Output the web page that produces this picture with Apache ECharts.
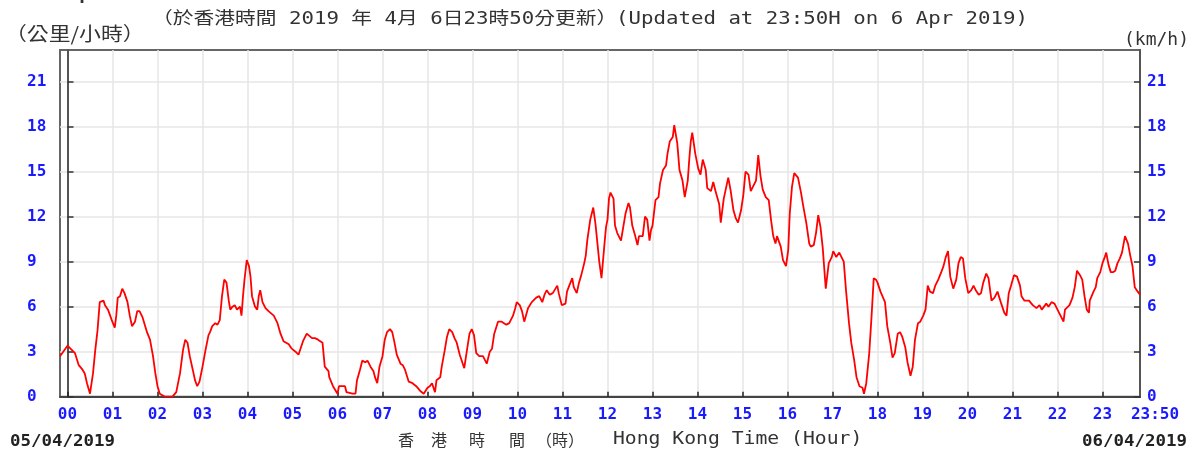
<!DOCTYPE html>
<html>
<head>
<meta charset="utf-8">
<script src="https://cdn.jsdelivr.net/npm/echarts@6/dist/echarts.min.js"></script>
<style>
  html, body { margin: 0; padding: 0; background: #ffffff; }
  #chart { width: 1191px; height: 450px; }
</style>
</head>
<body>
<div id="chart"></div>
<script>
// Minutes from 00:00 on 05/04/2019 (plot runs from 23:50 of the day before to 23:50)
const minutes = [
  -10, 0, 1, 10, 15, 20, 23, 26, 30, 32, 34, 37, 40, 43, 48, 50, 54, 59, 63, 65, 67, 70, 73, 76, 80, 83, 86, 90, 93, 96,
  100, 103, 106, 110, 114, 117, 120, 123, 130, 136, 140, 145, 150, 154, 157, 160, 163, 167, 170, 173, 176, 180, 184, 188, 190, 193, 197,
  200, 203, 206, 209, 212, 215, 217, 220, 223, 226, 230, 232, 234, 236, 239, 242, 244, 246, 250, 253, 255, 257, 260, 264, 268, 275,
  280, 284, 288, 290, 295, 299, 304, 308, 310, 314, 319, 320, 326, 330, 334, 340, 343, 348, 349, 354,
  360, 362, 367, 370, 372, 380, 384, 386, 390, 393, 397, 400, 404, 408, 410, 413, 416, 420, 423, 426, 430, 433, 436, 439, 444, 447,
  450, 455, 460, 465, 470, 475, 480, 483, 486, 490, 492, 497, 499, 503, 506, 509, 513, 516, 519, 523, 527, 529, 532, 536, 539, 542, 545,
  549, 554, 559, 563, 566, 569, 574, 579, 585, 589, 594, 597, 599, 603, 606, 609, 614, 616, 619, 625, 629, 633, 636, 639, 643, 647, 649,
  653, 655, 659, 664, 666, 669, 673, 675, 679, 682, 685, 689, 691, 693, 697, 701, 704, 707, 709, 712, 716, 718,
  720, 722, 724, 728, 730, 733, 738, 740, 744, 748, 750, 753, 757, 760, 762, 767, 770, 773, 776, 778, 780, 784, 788, 790, 794, 798,
  800, 803, 807, 809, 811, 813, 816, 820, 823, 827, 829, 831, 833, 837, 841, 844, 847, 851, 853, 858, 861, 864, 869, 871, 875,
  881, 884, 888, 891, 894, 898, 901, 904, 908, 911, 914, 918, 921, 924, 927, 931, 935, 938, 941, 944, 946, 951, 954, 958,
  961, 963, 966, 969, 971, 974, 978, 981, 985, 989, 991, 995, 998, 1001, 1004, 1007, 1011, 1015, 1019, 1021, 1025, 1029, 1032, 1035, 1038,
  1042, 1045, 1049, 1052, 1056, 1060, 1062, 1065, 1069, 1072, 1075, 1078, 1080, 1084, 1090, 1093, 1097, 1100, 1103, 1107, 1110, 1113, 1117,
  1120, 1124, 1127, 1130, 1134, 1137, 1141, 1144, 1147, 1150, 1154, 1157, 1161, 1165, 1168, 1171, 1174, 1177, 1181, 1185, 1188, 1191, 1194, 1197,
  1201, 1205, 1208, 1211, 1215, 1218, 1221, 1225, 1228, 1232, 1236, 1240, 1245, 1249, 1252, 1255, 1258, 1262, 1266, 1270, 1272, 1276,
  1282, 1287, 1292, 1296, 1299, 1305, 1308, 1312, 1316, 1320, 1325, 1328, 1330, 1332, 1336, 1340, 1343, 1346, 1350, 1353, 1356, 1359,
  1362, 1363, 1368, 1371, 1373, 1377, 1380, 1383, 1385, 1388, 1391, 1394, 1397, 1400, 1403, 1406, 1410, 1414, 1417, 1420, 1423, 1427, 1430
];

// Wind speed (km/h) at each of the minutes above
const speeds = [
  2.7, 3.4, 3.5, 2.9, 2.1, 1.8, 1.55, 0.9, 0.2, 0.3, 1.55, 3.1, 4.4, 6.3, 6.4, 6.1, 5.8, 5.1, 4.6, 5.4, 6.6, 6.7, 7.2, 6.9, 6.3, 5.4, 4.7, 5.0, 5.7, 5.7,
  5.3, 4.8, 4.3, 3.8, 2.7, 1.6, 0.7, 0.2, 0, 0, 0, 0.3, 1.55, 3.1, 3.8, 3.6, 2.7, 1.8, 1.1, 0.7, 1.0, 2.0, 3.1, 4.1, 4.3, 4.7, 4.9,
  4.8, 5.1, 6.7, 7.8, 7.6, 6.4, 5.8, 6.0, 6.1, 5.8, 6.0, 5.4, 6.7, 7.8, 9.1, 8.7, 8.0, 6.7, 6.0, 5.8, 6.7, 7.1, 6.3, 5.9, 5.7, 5.4,
  4.9, 4.2, 3.7, 3.6, 3.5, 3.2, 3.0, 2.8, 3.1, 3.7, 4.2, 4.1, 3.9, 3.9, 3.8, 3.6, 2.0, 1.7, 1.3, 0.7,
  0.2, 0.7, 0.7, 0.7, 0.3, 0.2, 0.2, 1.1, 1.8, 2.4, 2.3, 2.4, 2.0, 1.7, 1.3, 0.9, 2.0, 2.7, 3.8, 4.3, 4.5, 4.3, 3.6, 2.8, 2.2, 2.1,
  1.8, 1.0, 0.9, 0.7, 0.4, 0.2, 0.6, 0.7, 0.9, 0.3, 1.1, 1.3, 2.0, 3.1, 4.0, 4.5, 4.3, 3.9, 3.6, 2.8, 2.2, 1.9, 2.9, 4.2, 4.5, 4.1, 2.9,
  2.7, 2.7, 2.2, 3.0, 3.2, 4.2, 5.0, 5.0, 4.8, 4.9, 5.4, 5.9, 6.3, 6.1, 5.7, 5.0, 5.9, 5.8, 6.3, 6.6, 6.7, 6.3, 6.8, 7.1, 6.8, 6.9, 7.0,
  7.4, 6.9, 6.1, 6.2, 7.0, 7.4, 7.9, 7.3, 6.9, 7.6, 8.1, 8.9, 9.4, 10.4, 11.8, 12.6, 11.5, 10.0, 9.0, 7.9, 10.2, 11.3,
  11.8, 13.2, 13.6, 13.2, 11.4, 10.9, 10.4, 11.0, 12.2, 12.9, 12.6, 11.4, 10.7, 10.1, 10.7, 10.7, 12.0, 11.8, 10.4, 11.1, 11.4, 13.1, 13.3, 14.2, 15.1, 15.4,
  16.2, 17.0, 17.3, 18.1, 18.0, 16.9, 15.1, 14.4, 13.3, 14.4, 15.8, 17.0, 17.6, 16.2, 15.2, 14.8, 15.8, 15.1, 13.9, 13.7, 14.3, 13.7, 12.8, 11.6, 13.2,
  14.6, 13.8, 12.4, 11.9, 11.6, 12.4, 13.4, 15.0, 14.8, 13.7, 14.0, 14.4, 16.1, 14.7, 13.8, 13.3, 13.1, 11.8, 10.7, 10.2, 10.7, 10.0, 9.1, 8.7,
  9.8, 12.2, 14.0, 14.9, 15.0, 14.6, 13.6, 12.7, 11.6, 10.2, 10.0, 10.1, 10.9, 12.1, 11.3, 9.9, 7.2, 8.9, 9.3, 9.7, 9.3, 9.6, 9.3, 9.0, 7.1,
  4.9, 3.6, 2.4, 1.3, 0.7, 0.6, 0.2, 0.9, 2.9, 5.3, 7.9, 7.8, 7.6, 7.0, 6.3, 4.7, 3.6, 2.6, 2.9, 4.2, 4.3, 4.0, 3.3,
  2.3, 1.4, 2.0, 3.8, 4.9, 5.0, 5.4, 5.8, 7.4, 7.0, 6.9, 7.4, 7.8, 8.3, 8.7, 9.3, 9.7, 8.0, 7.2, 7.8, 8.9, 9.3, 9.2, 7.9,
  6.9, 7.1, 7.4, 7.1, 6.8, 6.9, 7.6, 8.2, 7.9, 6.4, 6.6, 7.0, 6.2, 5.6, 5.4, 6.9, 7.4, 8.1, 8.0, 7.4, 6.7, 6.4,
  6.4, 6.1, 5.9, 6.1, 5.8, 6.2, 6.0, 6.3, 6.2, 5.8, 5.3, 5.0, 5.8, 5.9, 6.1, 6.6, 7.3, 8.4, 8.1, 7.8, 6.7, 5.8,
  5.6, 6.4, 7.0, 7.3, 7.9, 8.3, 8.9, 9.3, 9.6, 8.8, 8.3, 8.3, 8.4, 8.9, 9.2, 9.6, 10.7, 10.2, 9.4, 8.7, 7.3, 7.0, 6.8
];

// Hour marks along the time axis, plus the 23:50 end label
const hourTicks = [0, 60, 120, 180, 240, 300, 360, 420, 480, 540, 600, 660, 720, 780, 840, 900, 960, 1020, 1080, 1140, 1200, 1260, 1320, 1380];
const timeLabelValues = hourTicks.concat([1430]);
const speedTicks = [0, 3, 6, 9, 12, 15, 18, 21];

const titleZh = '（於香港時間 2019 年 4月 6日23時50分更新）';
const titleEn = '(Updated at 23:50H on 6 Apr 2019)';
const unitZh = '（公里/小時）';
const unitEn = '(km/h)';
const startDate = '05/04/2019';
const endDate = '06/04/2019';
const axisNameZh = ['香', '港', '時', '間', '（時）'];
const axisNameEn = 'Hong Kong Time (Hour)';

const MONO = "'DejaVu Sans Mono', 'Liberation Mono', monospace";
const CJK = "'Noto Sans CJK TC', 'Noto Sans CJK SC', sans-serif";
const MIXED = "'DejaVu Sans Mono', 'Noto Sans CJK TC', monospace";
const BLUE = '#1a1aff';
const INK = '#333';

const chart = echarts.init(document.getElementById('chart'), null, { renderer: 'canvas' });

const yAxisCommon = {
  type: 'value',
  min: 0,
  max: 23.1,
  interval: 3,
  axisLine: { show: true, lineStyle: { color: '#555', width: 2 } },
  axisTick: { show: true, inside: true, length: 6, customValues: speedTicks, lineStyle: { color: '#333', width: 1.5 } },
  axisLabel: {
    customValues: speedTicks,
    color: BLUE,
    fontFamily: MONO,
    fontWeight: 'bold',
    fontSize: 16
  }
};

// plain text placed at (x, y), optionally stretched horizontally
function label(text, x, y, font, opts) {
  opts = opts || {};
  return {
    type: 'text',
    x: x,
    y: y,
    scaleX: opts.scaleX || 1,
    style: {
      text: text,
      font: font,
      fill: opts.fill || INK,
      align: opts.align || 'left',
      verticalAlign: 'middle'
    }
  };
}

chart.setOption({
  animation: false,
  backgroundColor: '#ffffff',
  grid: {
    left: 60, right: 51, top: 50, bottom: 53.3,
    show: true, borderColor: '#666', borderWidth: 2
  },
  xAxis: {
    type: 'value',
    min: -10,
    max: 1430,
    axisLine: { show: true, onZero: false, lineStyle: { color: '#444', width: 2 } },
    axisTick: { show: true, inside: true, length: 5, customValues: hourTicks, lineStyle: { color: '#222', width: 1.5 } },
    splitLine: { show: true, lineStyle: { color: '#e6e6e6', width: 1.5 } },
    axisLabel: {
      customValues: timeLabelValues,
      margin: 10,
      color: BLUE,
      fontFamily: MONO,
      fontWeight: 'bold',
      fontSize: 16,
      formatter: function (v) {
        if (v === 1430) return '{end|23:50}';
        return String(v / 60).padStart(2, '0');
      },
      rich: {
        end: { color: BLUE, fontFamily: MONO, fontWeight: 'bold', fontSize: 16, padding: [0, 0, 0, 30] }
      }
    }
  },
  yAxis: [
    Object.assign({}, yAxisCommon, {
      position: 'left',
      splitLine: { show: true, lineStyle: { color: '#e6e6e6', width: 1.5 } },
      axisLabel: Object.assign({}, yAxisCommon.axisLabel, { margin: 33, align: 'left' })
    }),
    Object.assign({}, yAxisCommon, {
      position: 'right',
      splitLine: { show: false },
      axisLabel: Object.assign({}, yAxisCommon.axisLabel, { margin: 7 })
    })
  ],
  series: [{
    type: 'line',
    data: minutes.map(function (m, i) { return [m, speeds[i]]; }),
    showSymbol: false,
    symbol: 'none',
    lineStyle: { color: '#ff0000', width: 1.8 },
    clip: true
  }],
  graphic: [
    label('Wind Speed', 10, -4, 'bold 16px ' + MONO, { scaleX: 1.2 }),
    label(titleZh, 152, 20, '17px ' + MIXED, { scaleX: 1.22 }),
    label(titleEn, 616, 20, '17px ' + MONO, { scaleX: 1.22 }),
    label(unitZh, 5, 34, '19px ' + CJK, { scaleX: 1.15 }),
    label(unitEn, 1189, 40, '18px ' + MONO, { align: 'right' }),
    label(startDate, 10, 442, 'bold 16px ' + MONO, { scaleX: 1.09, fill: '#222' }),
    label(endDate, 1187, 442, 'bold 16px ' + MONO, { scaleX: 1.09, fill: '#222', align: 'right' }),
    label(axisNameZh[0], 398, 440, '16px ' + CJK),
    label(axisNameZh[1], 431, 440, '16px ' + CJK),
    label(axisNameZh[2], 469, 440, '16px ' + CJK),
    label(axisNameZh[3], 509, 440, '16px ' + CJK),
    label(axisNameZh[4], 536, 440, '16px ' + CJK),
    label(axisNameEn, 613, 440, '17px ' + MONO, { scaleX: 1.16 })
  ]
});
</script>
</body>
</html>
